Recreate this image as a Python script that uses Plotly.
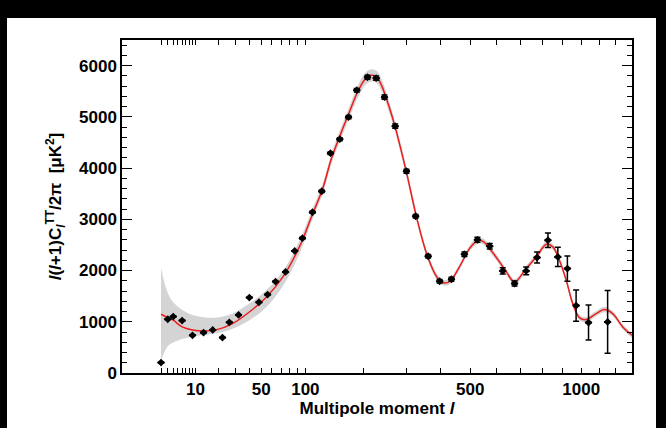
import plotly.graph_objects as go

# ---------------- data ----------------
ell_data = [2, 3, 4, 6, 9, 13, 17, 22, 26, 32, 40, 48, 56, 64, 75, 86, 96, 110, 124, 138,
            154, 170, 186, 208, 227, 246, 272, 301, 326, 362, 397, 435, 479, 526, 573, 625,
            675, 726, 776, 828, 877, 926, 972, 1040, 1150]
cl_data = [203, 1049, 1101, 1023, 736, 789, 840, 691, 990, 1133, 1473, 1381, 1531, 1785, 1972,
           2383, 2631, 3138, 3548, 4291, 4564, 4994, 5520, 5773, 5755, 5384, 4818, 3939, 3060,
           2279, 1791, 1830, 2318, 2600, 2475, 1992, 1746, 1992, 2254, 2592, 2266, 2039, 1316,
           984, 996]
err_data = [0, 0, 0, 0, 0, 0, 0, 0, 0, 0, 0, 0, 0, 0, 0, 0, 20, 20, 25, 25,
            30, 30, 35, 40, 40, 40, 40, 40, 35, 35, 35, 40, 45, 50, 55, 60,
            50, 75, 107, 143, 189, 247, 306, 342, 612]

ell_model = [2, 3, 4, 6, 9, 13, 19, 28, 40, 55, 72, 92, 110, 125, 140, 155, 170, 186, 200,
             210, 220, 230, 240, 255, 272, 300, 330, 360, 390, 410, 430, 460, 500, 530, 550,
             580, 612, 640, 675, 726, 775, 820, 852, 885, 920, 954, 990, 1027, 1083, 1131,
             1180, 1242, 1300]
cl_model = [1146, 1080, 1030, 900, 840, 820, 847, 965, 1191, 1484, 1875, 2461, 3100, 3580,
            4200, 4650, 5050, 5450, 5700, 5790, 5810, 5760, 5600, 5250, 4800, 3950, 3000,
            2280, 1860, 1760, 1790, 2050, 2450, 2590, 2560, 2380, 2168, 1973, 1777, 2039,
            2279, 2513, 2461, 2201, 1811, 1355, 1082, 1043, 1160, 1238, 1160, 898, 736]
band_upper = [2045, 1560, 1380, 1235, 1130, 1090, 1082, 1160, 1355, 1620, 1990, 2580, 3200,
              3680, 4300, 4760, 5160, 5570, 5820, 5910, 5930, 5880, 5720, 5360, 4900, 4040,
              3080, 2350, 1920, 1815, 1845, 2105, 2510, 2650, 2620, 2440, 2225, 2028, 1830,
              2095, 2335, 2570, 2518, 2258, 1866, 1408, 1132, 1093, 1212, 1292, 1212, 948, 786]
band_lower = [250, 520, 595, 665, 710, 740, 775, 865, 1030, 1290, 1700, 2320, 3000, 3480,
              4100, 4540, 4940, 5330, 5580, 5670, 5690, 5640, 5480, 5140, 4700, 3860, 2920,
              2210, 1800, 1705, 1735, 1995, 2390, 2530, 2500, 2320, 2111, 1918, 1724, 1983,
              2223, 2456, 2404, 2144, 1756, 1302, 1032, 993, 1108, 1184, 1108, 848, 686]

x_label_ells = [10, 50, 100, 500, 1000]
x_label_text = ["10", "50", "100", "500", "1000"]
x_minor_ells = [2, 3, 4, 5, 6, 7, 8, 9, 20, 30, 40, 60, 70, 80, 90,
                200, 300, 400, 600, 700, 800, 900, 1100, 1200]

# ---------------- axis transform (l ** 0.4) ----------------
P = 0.4
def tx(v):
    return [a ** P for a in v]

FONT = "Liberation Sans, Arial, Helvetica, sans-serif"

fig = go.Figure()
fig.add_trace(go.Scatter(x=tx(ell_model), y=band_lower, mode="lines",
                         line=dict(width=0, shape="spline", color="rgba(0,0,0,0)"),
                         hoverinfo="skip", showlegend=False))
fig.add_trace(go.Scatter(x=tx(ell_model), y=band_upper, mode="lines", fill="tonexty",
                         fillcolor="#d4d4d4",
                         line=dict(width=0, shape="spline", color="rgba(0,0,0,0)"),
                         hoverinfo="skip", showlegend=False))
fig.add_trace(go.Scatter(x=tx(ell_model), y=cl_model, mode="lines",
                         line=dict(color="#ee1c1c", width=1.5, shape="spline"),
                         showlegend=False))
fig.add_trace(go.Scatter(x=tx(ell_data), y=cl_data, mode="markers",
                         marker=dict(symbol="diamond", size=6, color="black"),
                         error_y=dict(type="data", array=err_data, color="black",
                                      thickness=1.5, width=3),
                         error_x=dict(type="constant", value=0.12, color="black",
                                      thickness=2, width=0),
                         showlegend=False))

fig.update_layout(
    width=666, height=428,
    margin=dict(l=122, r=34, t=40, b=55),
    paper_bgcolor="white", plot_bgcolor="white",
    font=dict(family=FONT, color="black"),
)
fig.update_xaxes(
    range=[-0.03, 1300 ** P],
    tickmode="array",
    tickvals=tx(x_label_ells),
    ticktext=x_label_text,
    ticks="inside", ticklen=5, tickwidth=1.2, tickcolor="black",
    minor=dict(tickmode="array", tickvals=tx(x_minor_ells), ticks="inside", ticklen=5,
               tickwidth=1.2, tickcolor="black", showgrid=False),
    showline=True, linecolor="black", linewidth=1.5, mirror="ticks",
    showgrid=False, zeroline=False,
    tickfont=dict(size=17, weight="bold"),
    title=dict(text="Multipole moment <i>l</i>", font=dict(size=17, weight="bold"),
               standoff=4),
)
fig.update_yaxes(
    range=[0, 6500],
    tickmode="linear", tick0=0, dtick=1000,
    ticks="inside", ticklen=10, tickwidth=1.2, tickcolor="black",
    minor=dict(tickmode="linear", tick0=0, dtick=200, ticks="inside", ticklen=5,
               tickwidth=1.2, tickcolor="black", showgrid=False),
    showline=True, linecolor="black", linewidth=1.5, mirror="ticks",
    showgrid=False, zeroline=False,
    tickfont=dict(size=17, weight="bold"),
    title=dict(text="<i>l</i>(<i>l</i>+1)C<sub><i>l</i></sub><sup>TT</sup>/2π  [μK<sup>2</sup>]",
               font=dict(size=17, weight="bold"), standoff=13),
)

# black frame of the picture (paper coordinates relative to the plot area)
W, H = 666, 428
L, R, T, B = 122, 632, 40, 373
def px(x):
    return (x - L) / (R - L)
def py(y):
    return (B - y) / (B - T)
border = "black"
for (x0, y0, x1, y1) in [(0, 0, W, 18), (0, 0, 7, H), (W - 10, 0, W, H)]:
    fig.add_shape(type="rect", xref="paper", yref="paper",
                  x0=px(x0), x1=px(x1), y0=py(y1), y1=py(y0),
                  fillcolor=border, line=dict(width=0), layer="above")

fig.write_html("out.html")
